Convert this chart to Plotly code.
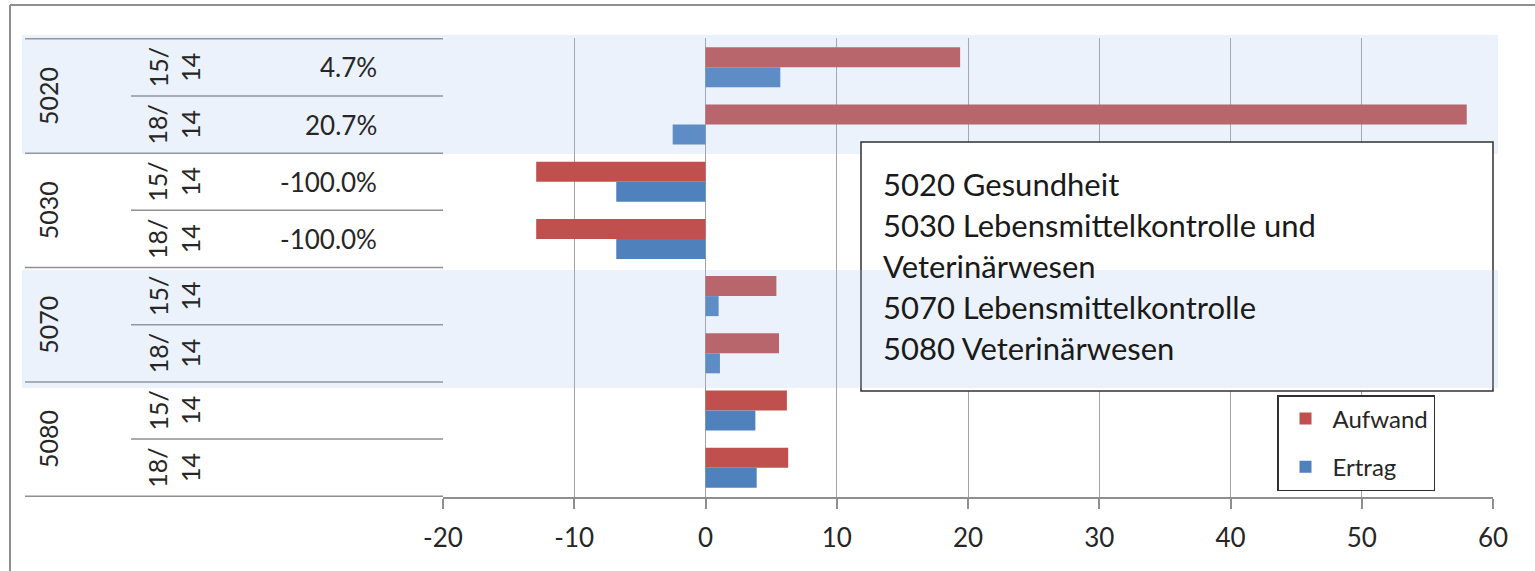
import plotly.graph_objects as go

# --- data -------------------------------------------------------------
codes = ["5020", "5030", "5070", "5080"]
periods = ["15/14", "18/14"]
aufwand = [19.4, 58.0, -12.9, -12.9, 5.4, 5.6, 6.2, 6.3]
ertrag = [5.7, -2.5, -6.8, -6.8, 1.0, 1.1, 3.8, 3.9]
change_labels = ["4.7%", "20.7%", "-100.0%", "-100.0%", "", "", "", ""]
descriptions = [
    "5020 Gesundheit",
    "5030 Lebensmittelkontrolle und",
    "Veterinärwesen",
    "5070 Lebensmittelkontrolle",
    "5080 Veterinärwesen",
]
x_ticks = [-20, -10, 0, 10, 20, 30, 40, 50, 60]

rows = [f"{c} {p}" for c in codes for p in periods]

# --- layout helpers (pixel -> paper) -----------------------------------
W, H = 1535, 571
FONT = "Lato"
TXT = "#262626"
GRID = "#a3a3a3"
LINE = "#8f8f8f"


def px(x):
    return x / W


def py(y):
    return 1 - y / H


fig = go.Figure()
fig.add_trace(go.Bar(y=rows, x=aufwand, orientation="h", name="Aufwand",
                     marker=dict(color="#C0504D", line=dict(width=0)),
                     legendgroup="a"))
fig.add_trace(go.Bar(y=rows, x=ertrag, orientation="h", name="Ertrag",
                     marker=dict(color="#4F81BD", line=dict(width=0)),
                     legendgroup="e"))

shapes = []
# outer frame
shapes.append(dict(type="line", xref="paper", yref="paper", x0=px(10), x1=1,
                   y0=py(5), y1=py(5), line=dict(color=LINE, width=2)))
shapes.append(dict(type="line", xref="paper", yref="paper", x0=px(10), x1=px(10),
                   y0=py(5), y1=0, line=dict(color=LINE, width=2)))

# table rules on the left of the plot
n = len(rows)
for k in range(0, n + 1, 2):
    shapes.append(dict(type="line", xref="paper", yref="y", x0=px(25), x1=px(443),
                       y0=k - 0.5, y1=k - 0.5, line=dict(color=LINE, width=1.5)))
for k in range(1, n, 2):
    shapes.append(dict(type="line", xref="paper", yref="y", x0=px(131), x1=px(443),
                       y0=k - 0.5, y1=k - 0.5, line=dict(color=LINE, width=1.5)))

BAND = "rgba(153,192,235,0.2)"
# band behind 5020 rows
shapes.append(dict(type="rect", xref="paper", yref="paper", layer="above",
                   x0=px(22), x1=px(1498), y0=py(154), y1=py(35),
                   fillcolor=BAND, line=dict(width=0)))
# description box
shapes.append(dict(type="rect", xref="paper", yref="paper", layer="above",
                   x0=px(861), x1=px(1493), y0=py(391), y1=py(142),
                   fillcolor="white", line=dict(color="#303030", width=1.5)))
# band behind 5070 rows
shapes.append(dict(type="rect", xref="paper", yref="paper", layer="above",
                   x0=px(22), x1=px(1498), y0=py(388), y1=py(270),
                   fillcolor=BAND, line=dict(width=0)))

annotations = []
for gi, code in enumerate(codes):
    annotations.append(dict(x=px(48), xref="paper", y=2 * gi + 0.5, yref="y",
                            xanchor="center", yanchor="middle",
                            text=code, textangle=-90, showarrow=False,
                            font=dict(family=FONT, size=25, color=TXT)))
for ri, row in enumerate(rows):
    per = periods[ri % 2]
    top, bottom = per.split("/")
    annotations.append(dict(x=px(174), xref="paper", y=ri, yref="y",
                            xanchor="center", yanchor="middle",
                            text=f"{top}/<br>{bottom}", textangle=-90,
                            showarrow=False,
                            font=dict(family=FONT, size=25, color=TXT)))
    if change_labels[ri]:
        annotations.append(dict(x=px(379), xref="paper", y=ri, yref="y",
                                xanchor="right", yanchor="middle",
                                text=change_labels[ri], showarrow=False,
                                font=dict(family=FONT, size=26, color=TXT)))

for li, line in enumerate(descriptions):
    annotations.append(dict(x=px(881), xref="paper", y=py(184 + 41 * li),
                            yref="paper", xanchor="left", yanchor="middle",
                            text=line, showarrow=False,
                            font=dict(family=FONT, size=31, color="#1a1a1a")))

fig.update_layout(
    width=W, height=H,
    autosize=False,
    margin=dict(l=0, r=0, t=0, b=0, pad=0, autoexpand=False),
    paper_bgcolor="white", plot_bgcolor="white",
    barmode="group", bargap=0.3, bargroupgap=0,
    shapes=shapes, annotations=annotations,
    showlegend=True,
    legend=dict(x=px(1277), y=py(395), xanchor="left", yanchor="top",
                bgcolor="white", bordercolor="#303030", borderwidth=1.5,
                font=dict(family=FONT, size=24, color=TXT),
                itemwidth=44,
                traceorder="grouped", tracegroupgap=14),
    xaxis=dict(domain=[px(443), px(1493)], range=[-20, 60], automargin=False,
               tickvals=x_ticks, ticktext=[str(v) for v in x_ticks],
               showgrid=True, gridcolor=GRID, gridwidth=1,
               zeroline=True, zerolinecolor=GRID, zerolinewidth=1,
               showline=True, linecolor=LINE, linewidth=1.5,
               ticks="outside", ticklen=10, tickcolor=LINE, tickwidth=1.5,
               ticklabelstandoff=7,
               tickfont=dict(family=FONT, size=26, color=TXT)),
    yaxis=dict(domain=[py(497), py(38)], categoryorder="array", automargin=False,
               categoryarray=rows, autorange="reversed",
               showgrid=False, zeroline=False, showticklabels=False,
               showline=False, ticks=""),
)

fig.write_html("out.html", config={"displayModeBar": False})
